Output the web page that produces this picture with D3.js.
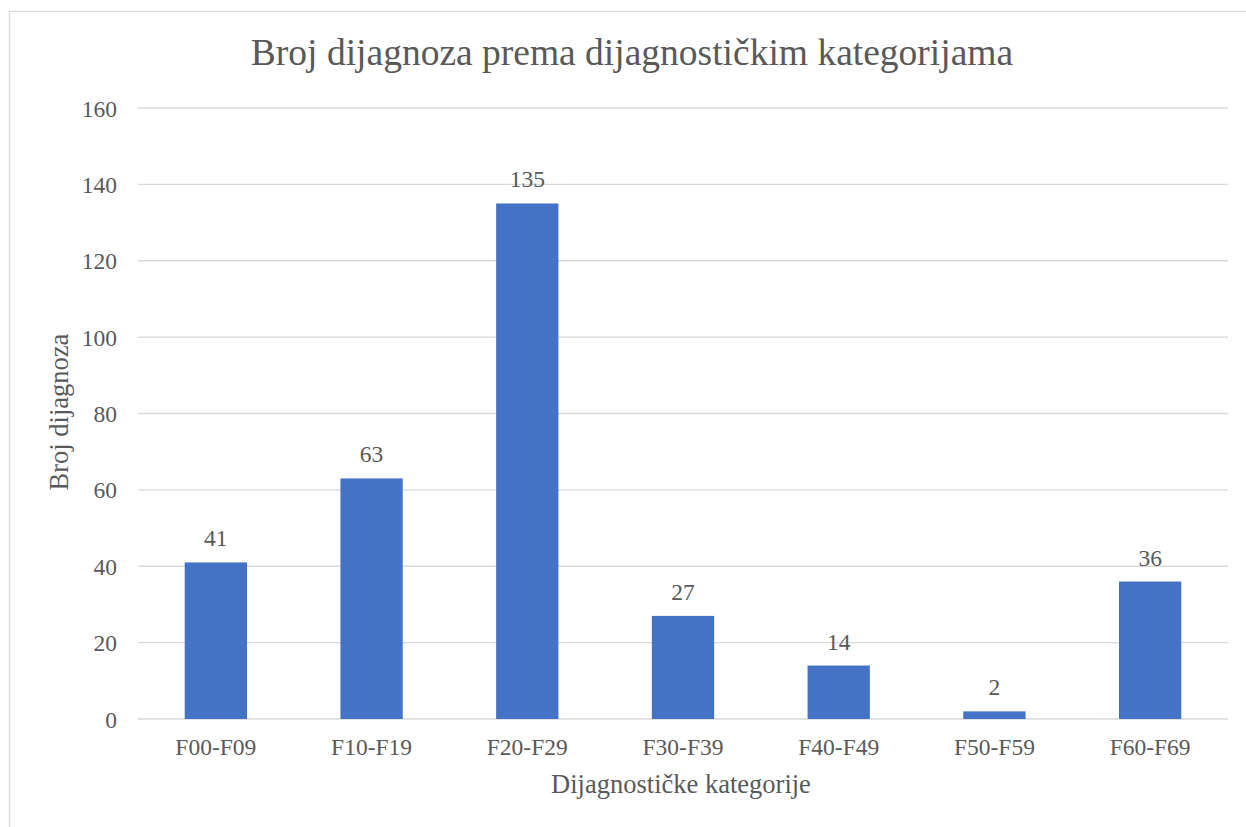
<!DOCTYPE html>
<html>
<head>
<meta charset="utf-8">
<script src="https://cdn.jsdelivr.net/npm/d3@7"></script>
<style>
  html, body { margin: 0; padding: 0; background: #fff; }
  svg text { font-family: "Liberation Serif", "Times New Roman", serif !important; fill: #595959; }
</style>
</head>
<body>
<svg id="chart" width="1246" height="827"></svg>
<script>
const categories = ["F00-F09", "F10-F19", "F20-F29", "F30-F39", "F40-F49", "F50-F59", "F60-F69"];
const values = [41, 63, 135, 27, 14, 2, 36];
const yTicks = [0, 20, 40, 60, 80, 100, 120, 140, 160];
const titleText = "Broj dijagnoza prema dijagnostičkim kategorijama";
const xTitle = "Dijagnostičke kategorije";
const yTitle = "Broj dijagnoza";

const svg = d3.select("#chart");
const W = 1246, H = 827;
const plot = { left: 138, right: 1228, top: 108, bottom: 719 };

// chart frame
svg.append("rect")
  .attr("x", 9.5).attr("y", 11.5)
  .attr("width", W + 10).attr("height", H + 10)
  .attr("fill", "#fff").attr("stroke", "#d9d9d9").attr("stroke-width", 1.3);

const x = d3.scaleBand().domain(categories)
  .range([plot.left, plot.right]).paddingInner(0.6).paddingOuter(0.3);
const y = d3.scaleLinear().domain([0, 160]).range([plot.bottom, plot.top]);

// gridlines
svg.append("g").selectAll("line").data(yTicks).join("line")
  .attr("x1", plot.left).attr("x2", plot.right)
  .attr("y1", d => y(d)).attr("y2", d => y(d))
  .attr("stroke", "#d9d9d9").attr("stroke-width", 1.3);

// y axis labels
const yAxis = d3.axisLeft(y).tickValues(yTicks).tickSize(0).tickPadding(0);
const gy = svg.append("g").attr("transform", `translate(${plot.left - 21},0)`).call(yAxis);
gy.select(".domain").remove();
gy.selectAll("text").style("font-size", "23.5px").attr("fill", "#595959").attr("dy", "0.34em");

// bars
svg.append("g").selectAll("rect").data(values).join("rect")
  .attr("x", (d, i) => x(categories[i]))
  .attr("width", x.bandwidth())
  .attr("y", d => y(d))
  .attr("height", d => y(0) - y(d))
  .attr("fill", "#4472c4");

// value labels
svg.append("g").selectAll("text").data(values).join("text")
  .attr("x", (d, i) => x(categories[i]) + x.bandwidth() / 2)
  .attr("y", d => y(d) - 16)
  .attr("text-anchor", "middle")
  .style("font-size", "23.5px")
  .text(d => d);

// x axis labels
const xAxis = d3.axisBottom(x).tickSize(0).tickPadding(0);
const gx = svg.append("g").attr("transform", `translate(0,${plot.bottom})`).call(xAxis);
gx.select(".domain").remove();
gx.selectAll("text").style("font-size", "23.5px").attr("fill", "#595959")
  .attr("y", 36).attr("dy", 0);

// title
svg.append("text").attr("x", 632).attr("y", 65).attr("text-anchor", "middle")
  .style("font-size", "37.5px").text(titleText);

// axis titles
svg.append("text").attr("x", 681).attr("y", 793).attr("text-anchor", "middle")
  .style("font-size", "26.5px").text(xTitle);
svg.append("text").attr("transform", "translate(68,412) rotate(-90)").attr("text-anchor", "middle")
  .style("font-size", "26.5px").text(yTitle);
</script>
</body>
</html>
